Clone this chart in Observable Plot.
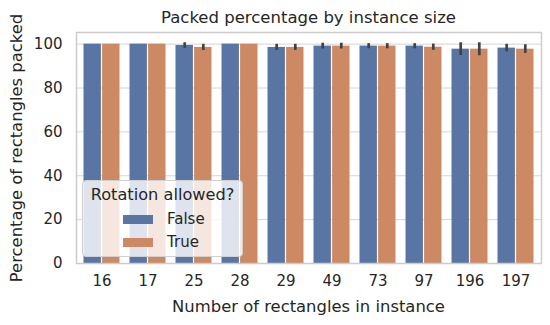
<!DOCTYPE html>
<html>
<head>
<meta charset="utf-8">
<script src="https://cdn.jsdelivr.net/npm/d3@7"></script>
<script src="https://cdn.jsdelivr.net/npm/@observablehq/plot@0.6"></script>
<style>
  html, body { margin: 0; padding: 0; background: #fff; }
  #wrap { position: relative; width: 550px; height: 325px; font-family: "DejaVu Sans", sans-serif; color: #262626; }
  #title { position: absolute; left: 76px; width: 465px; top: 6px; text-align: center; font-size: 16.5px; line-height: 24px; }
  #xlab { position: absolute; left: 76px; width: 465px; top: 295px; text-align: center; font-size: 16.4px; line-height: 24px; }
  #ylab { position: absolute; left: 17px; top: 147.5px; width: 0; height: 0; }
  #ylab span { position: absolute; left: 0; top: 0; white-space: nowrap; font-size: 16.4px; line-height: 24px;
               transform: translate(-50%, -50%) rotate(-90deg); }
  #legend { position: absolute; left: 82px; top: 180px; width: 161px; height: 77px; box-sizing: border-box;
            background: rgba(255,255,255,0.8); border: 1px solid #d0d0d0; border-radius: 4px; }
  #legend .lt { position: absolute; left: 0; width: 100%; top: 2px; text-align: center; font-size: 16.2px; line-height: 24px; }
  #legend .item { position: absolute; left: 40px; font-size: 15px; height: 20px; line-height: 20px; }
  #legend .sw { position: absolute; left: 0; top: 6px; width: 30px; height: 9px; }
  #legend .lbl { position: absolute; left: 44px; top: 0; }
</style>
</head>
<body>
<div id="wrap">
  <div id="chart"></div>
  <div id="title"></div>
  <div id="xlab"></div>
  <div id="ylab"><span></span></div>
  <div id="legend"></div>
</div>
<script>
const title = "Packed percentage by instance size";
const xLabel = "Number of rectangles in instance";
const yLabel = "Percentage of rectangles packed";
const legendTitle = "Rotation allowed?";
const series = ["False", "True"];
const colors = ["#5975a4", "#cc8963"];
const sizes = ["16", "17", "25", "28", "29", "49", "73", "97", "196", "197"];
const falseMean = [100, 100, 99.4, 100, 98.5, 99.1, 99.1, 99.1, 97.7, 98.2];
const falseLo   = [100, 100, 98.7, 100, 97.7, 98.4, 98.5, 98.5, 95.4, 97.1];
const falseHi   = [100, 100, 100,  100, 99.3, 99.8, 99.6, 99.6, 100,  99.3];
const trueMean  = [100, 100, 98.5, 100, 98.5, 99.1, 99.1, 98.6, 97.7, 97.7];
const trueLo    = [100, 100, 97.7, 100, 97.7, 98.4, 98.5, 97.8, 95.3, 96.4];
const trueHi    = [100, 100, 99.3, 100, 99.3, 99.8, 99.6, 99.4, 100,  99.1];
const yTicks = [0, 20, 40, 60, 80, 100];

const W = 550, H = 325, mL = 76, mR = 9, mT = 32, mB = 62;
const step = (W - mL - mR) / sizes.length;
const half = step * 0.8 / 2;

const rows = [];
sizes.forEach((s, i) => {
  rows.push({size: s, rot: "False", mean: falseMean[i], lo: falseLo[i], hi: falseHi[i]});
  rows.push({size: s, rot: "True", mean: trueMean[i], lo: trueLo[i], hi: trueHi[i]});
});
const F = rows.filter(d => d.rot === "False");
const T = rows.filter(d => d.rot === "True");
const errF = F.filter(d => d.hi > d.lo);
const errT = T.filter(d => d.hi > d.lo);

const chart = Plot.plot({
  width: W, height: H,
  marginLeft: mL, marginRight: mR, marginTop: mT, marginBottom: mB,
  style: {fontFamily: "DejaVu Sans, sans-serif", fontSize: "15px", color: "#262626", background: "#fff"},
  x: {domain: sizes, paddingInner: 0.2, paddingOuter: 0.1, label: null},
  y: {domain: [0, 105.3], label: null},
  color: {domain: series, range: colors},
  marks: [
    Plot.gridY(yTicks, {stroke: "#d4d4d4", strokeOpacity: 1, strokeWidth: 1}),
    Plot.barY(F, {x: "size", y: "mean", fill: colors[0], insetRight: half + 0.5, insetLeft: 0.5}),
    Plot.barY(T, {x: "size", y: "mean", fill: colors[1], insetLeft: half + 0.5, insetRight: 0.5}),
    Plot.ruleX(errF, {x: "size", y1: "lo", y2: "hi", dx: -half / 2, stroke: "#424242", strokeWidth: 2.7, strokeLinecap: "square"}),
    Plot.ruleX(errT, {x: "size", y1: "lo", y2: "hi", dx: half / 2, stroke: "#424242", strokeWidth: 2.7, strokeLinecap: "square"}),
    Plot.frame({stroke: "#cccccc", strokeWidth: 1.5}),
    Plot.axisX({tickSize: 0, tickPadding: 12, fontSize: 15, label: null}),
    Plot.axisY(yTicks, {tickSize: 0, tickPadding: 14, fontSize: 15, label: null})
  ]
});
document.getElementById("chart").appendChild(chart);

document.getElementById("title").textContent = title;
document.getElementById("xlab").textContent = xLabel;
document.querySelector("#ylab span").textContent = yLabel;
const lg = document.getElementById("legend");
const lt = document.createElement("div"); lt.className = "lt"; lt.textContent = legendTitle; lg.appendChild(lt);
series.forEach((s, i) => {
  const it = document.createElement("div"); it.className = "item"; it.style.top = (28 + i * 23) + "px";
  const sw = document.createElement("div"); sw.className = "sw"; sw.style.background = colors[i];
  const lb = document.createElement("div"); lb.className = "lbl"; lb.textContent = s;
  it.appendChild(sw); it.appendChild(lb); lg.appendChild(it);
});
</script>
</body>
</html>
